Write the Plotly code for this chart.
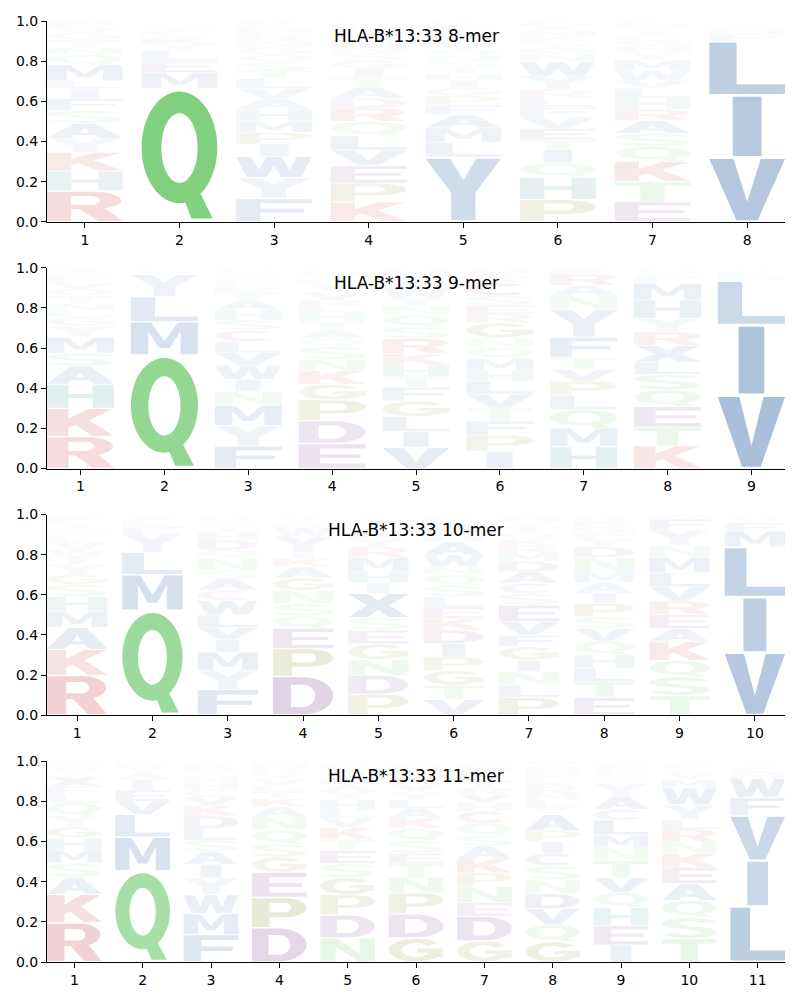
"""
Probability sequence logos for HLA-B*13:33 ligands of length 8-11.
Each letter is a glyph outline stretched into its stack box; opacity follows the letter's frequency.
"""
import numpy as np
import plotly.graph_objects as go
from plotly.subplots import make_subplots

ALLELE = "HLA-B*13:33"
PEPTIDE_LENGTHS = [8, 9, 10, 11]

# letters per position, bottom -> top, with their frequencies
letters_8 = ["RHKYASFILMQNTGVED", "QMELYKVFIWRAS", "FYWIPMHAVLTSQGNREDCK",
             "KPEVLQRDATIGSNMYHFWC", "YLMAFPGIHTSNQVEKRDWC", "PHQITEVFLRYWNGSKMADC",
             "ETKQSARHLVWMYNGFIPDC", "VILFMAYWT"]
heights_8 = [
    [.155, .10, .095, .07, .075, .065, .06, .05, .04, .08, .05, .035, .04, .035, .025, .02, .015],
    [.665, .08, .055, .05, .035, .03, .02, .015, .015, .01, .01, .01, .005],
    [.11, .10, .10, .06, .055, .055, .055, .05, .05, .045, .04, .04, .035, .035, .03, .025, .02, .02, .015, .015],
    [.09, .085, .08, .07, .065, .065, .06, .045, .05, .045, .04, .035, .035, .03, .03, .025, .02, .02, .01, .01],
    [.32, .075, .07, .065, .05, .045, .04, .035, .035, .03, .03, .03, .03, .03, .025, .025, .02, .015, .015, .01],
    [.11, .11, .07, .065, .05, .055, .055, .05, .045, .04, .07, .07, .04, .03, .03, .025, .025, .02, .02, .01],
    [.10, .10, .10, .075, .065, .065, .055, .055, .05, .04, .05, .05, .04, .03, .03, .025, .025, .02, .015, .01],
    [.32, .31, .27, .04, .025, .01, .01, .01, .005],
]

letters_9 = ["RKHASMYGLNTQVFEID", "QMLYVFI", "FYMNIWVLCSHATEKRGDQP", "EDPGKNSQATHLRVYFIMWC",
             "VILGFTHKRSQNYWAEDMP", "IPFTVLHMQNGRESCKADY", "HMQLPVTFYNARKE",
             "KTEQSLXRYHMFANG", "VILMFAY"]
heights_9 = [
    [.16, .14, .12, .09, .065, .08, .055, .045, .03, .035, .04, .035, .03, .025, .02, .02, .01],
    [.565, .166, .125, .11, .015, .01, .009],
    [.11, .10, .10, .065, .06, .07, .06, .055, .055, .05, .05, .045, .035, .025, .02, .02, .02, .015, .015, .01],
    [.12, .11, .10, .075, .065, .055, .06, .04, .04, .04, .045, .03, .03, .04, .04, .02, .02, .015, .01, .01],
    [.10, .075, .07, .075, .065, .05, .055, .055, .07, .055, .055, .045, .04, .045, .03, .02, .02, .015, .01],
    [.08, .075, .065, .06, .065, .06, .05, .055, .05, .045, .07, .04, .04, .045, .06, .025, .02, .015, .01],
    [.10, .085, .085, .065, .065, .055, .055, .09, .13, .065, .045, .05, .02, .01],
    [.11, .09, .10, .08, .075, .06, .08, .065, .065, .09, .08, .03, .02, .015, .01],
    [.365, .35, .22, .025, .02, .01, .01],
]

letters_10 = ["RKAMHSGYTWVLNQIFED", "QMLYEKFVI", "FYMIVLWCASNQDHTGRKE", "DPEQSNGAKIYWRTVL",
              "PDNGESXIHMRYKTAFLVQ", "VTGPIDKELSQNWAHRMYFC", "PLNIGFVESCADMRKQTYHW",
              "ETLHQVSPIAMNDYFGKRC", "TSQKAERVLMNYFGW", "VILMFYWAT"]
heights_10 = [
    [.20, .13, .11, .08, .075, .06, .05, .05, .045, .03, .03, .03, .025, .025, .02, .02, .015, .01],
    [.515, .175, .11, .09, .035, .02, .015, .015, .01],
    [.125, .09, .09, .06, .06, .06, .07, .05, .055, .04, .06, .04, .045, .04, .03, .02, .015, .01, .01],
    [.19, .135, .10, .06, .06, .065, .06, .055, .04, .03, .08, .04, .02, .02, .015, .01],
    [.10, .09, .075, .075, .065, .06, .115, .05, .055, .065, .05, .04, .03, .02, .02, .015, .01, .01, .01],
    [.075, .07, .07, .065, .065, .065, .055, .055, .05, .055, .05, .04, .055, .065, .03, .03, .025, .02, .015, .01],
    [.085, .06, .065, .055, .065, .055, .065, .08, .055, .05, .055, .05, .04, .035, .03, .03, .03, .025, .02, .015],
    [.085, .075, .065, .065, .065, .06, .055, .065, .05, .05, .05, .07, .05, .04, .03, .03, .025, .02, .01],
    [.09, .085, .075, .085, .06, .065, .06, .065, .065, .07, .055, .07, .05, .01, .01],
    [.30, .265, .24, .075, .04, .015, .01, .01, .005],
]

letters_11 = ["RKASMHGYQLFXTVNED", "QMLVEIAYKF", "FMWYIASLDKVCHNTERGQ", "DPEGSQNAKTLVYRHMF",
              "NDPGSETKVLHYAMQRFWI", "GDPNTESQKALYVRMFHI", "GDENPKASQCHVRTLYMFI",
              "GQVDNSCIPAYLMRKFEHTW", "IEHQVTNMLCAYSRKFWG", "TSQAEKNRLYWMVGFHP", "LIVFWMCYA"]
heights_11 = [
    [.195, .14, .085, .07, .065, .06, .055, .055, .065, .04, .04, .05, .02, .02, .015, .01, .01],
    [.445, .165, .11, .065, .055, .05, .03, .03, .02, .01],
    [.13, .10, .09, .08, .065, .06, .055, .055, .06, .05, .04, .035, .035, .03, .02, .015, .015, .01, .01],
    [.17, .15, .125, .075, .065, .07, .065, .05, .04, .035, .03, .03, .025, .02, .02, .015, .01],
    [.12, .115, .10, .085, .07, .065, .055, .06, .045, .04, .055, .04, .035, .03, .03, .02, .015, .01, .01],
    [.115, .115, .10, .075, .065, .05, .06, .06, .05, .045, .04, .04, .035, .035, .03, .02, .015, .01],
    [.10, .115, .065, .075, .065, .065, .06, .05, .06, .055, .04, .04, .03, .03, .025, .025, .02, .015, .01],
    [.095, .08, .075, .07, .065, .065, .06, .055, .05, .075, .035, .035, .03, .03, .025, .025, .025, .02, .015, .01],
    [.08, .09, .085, .07, .07, .08, .06, .06, .07, .05, .06, .06, .03, .02, .02, .015, .01, .01],
    [.11, .10, .08, .08, .075, .065, .055, .06, .045, .07, .08, .04, .03, .02, .015, .01, .01],
    [.26, .215, .21, .085, .09, .025, .025, .02, .01],
]

LOGOS = {8: (letters_8, heights_8), 9: (letters_9, heights_9),
         10: (letters_10, heights_10), 11: (letters_11, heights_11)}

# base colour per residue; opacity comes from the frequency
BLUE, RED, PURPLE, OLIVE, GREEN = (21, 80, 152), (190, 30, 30), (100, 30, 120), (110, 110, 0), (64, 184, 64)
COLORS = {**{a: BLUE for a in "AFILMVWX"}, "Y": (110, 145, 190), "H": (20, 120, 120), "C": (130, 40, 120),
          "K": RED, "R": RED, "D": PURPLE, "E": PURPLE, "P": OLIVE, "G": OLIVE,
          **{a: GREEN for a in "QNST"}}


# ---------- glyph outlines in a unit box ----------
def arc(cx, cy, rx, ry, a0, a1, n=28):
    t = np.radians(np.linspace(a0, a1, n))
    return list(zip(cx + rx * np.cos(t), cy + ry * np.sin(t)))


def ring_seg(cx, cy, rxo, ryo, rxi, ryi, a0, a1):
    return arc(cx, cy, rxo, ryo, a0, a1) + arc(cx, cy, rxi, ryi, a1, a0)


def rect(x0, y0, x1, y1):
    return [(x0, y0), (x1, y0), (x1, y1), (x0, y1)]


GLYPHS = {
    "A": [([(0, 0), (.3, 0), (.37, .2), (.63, .2), (.7, 0), (1, 0), (.65, 1), (.35, 1)], False),
          ([(.43, .36), (.57, .36), (.5, .68)], True)],
    "C": [(ring_seg(.5, .5, .5, .5, .26, .3, 45, 315), False)],
    "D": [([(0, 0), (.5, 0)] + arc(.5, .5, .5, .5, -90, 90) + [(0, 1)], False),
          ([(.3, .2), (.5, .2)] + arc(.5, .5, .2, .3, -90, 90) + [(.3, .8)], True)],
    "E": [([(0, 0), (1, 0), (1, .18), (.32, .18), (.32, .42), (.92, .42), (.92, .58), (.32, .58),
            (.32, .82), (1, .82), (1, 1), (0, 1)], False)],
    "F": [([(0, 0), (.32, 0), (.32, .4), (.9, .4), (.9, .57), (.32, .57), (.32, .82), (1, .82),
            (1, 1), (0, 1)], False)],
    "G": [(ring_seg(.5, .5, .5, .5, .26, .3, 40, 360), False), (rect(.52, .38, 1, .56), False),
          (rect(.74, .2, 1, .56), False)],
    "H": [([(0, 0), (.32, 0), (.32, .42), (.68, .42), (.68, 0), (1, 0), (1, 1), (.68, 1), (.68, .6),
            (.32, .6), (.32, 1), (0, 1)], False)],
    "I": [(rect(0, 0, 1, 1), False)],
    "K": [([(0, 0), (.32, 0), (.32, .3), (.42, .4), (.68, 0), (1, 0), (.62, .58), (.98, 1), (.62, 1),
            (.32, .64), (.32, 1), (0, 1)], False)],
    "L": [([(0, 0), (1, 0), (1, .19), (.36, .19), (.36, 1), (0, 1)], False)],
    "M": [([(0, 0), (.26, 0), (.26, .72), (.42, .2), (.58, .2), (.74, .72), (.74, 0), (1, 0), (1, 1),
            (.7, 1), (.5, .42), (.3, 1), (0, 1)], False)],
    "N": [([(0, 0), (.28, 0), (.28, .65), (.7, 0), (1, 0), (1, 1), (.72, 1), (.72, .35), (.3, 1),
            (0, 1)], False)],
    "P": [([(0, 0), (.32, 0), (.32, .34), (.6, .34)] + arc(.6, .67, .4, .33, -90, 90) + [(0, 1)], False),
          ([(.32, .5), (.58, .5)] + arc(.58, .67, .14, .17, -90, 90) + [(.32, .84)], True)],
    "Q": [(arc(.5, .56, .5, .44, 0, 360, 60), False), (arc(.5, .555, .24, .275, 0, 360, 60), True),
          ([(.5, .24), (.74, .24), (.94, 0), (.66, 0)], False)],
    "R": [([(0, 0), (.32, 0), (.32, .4), (.6, .4)] + arc(.6, .7, .38, .3, -90, 90) + [(0, 1)], False),
          ([(.32, .55), (.58, .55)] + arc(.58, .7, .12, .15, -90, 90) + [(.32, .85)], True),
          ([(.4, .45), (.68, 0), (1, 0), (.74, .48)], False)],
    "S": [(ring_seg(.5, .72, .5, .28, .2, .11, 15, 270), False),
          (ring_seg(.5, .28, .5, .28, .2, .11, 195, 450), False)],
    "T": [([(0, 1), (1, 1), (1, .8), (.66, .8), (.66, 0), (.34, 0), (.34, .8), (0, .8)], False)],
    "V": [([(0, 1), (.32, 1), (.5, .3), (.68, 1), (1, 1), (.64, 0), (.36, 0)], False)],
    "W": [([(0, 1), (.2, 1), (.3, .35), (.4, 1), (.6, 1), (.7, .35), (.8, 1), (1, 1), (.86, 0),
            (.6, 0), (.5, .55), (.4, 0), (.14, 0)], False)],
    "X": [([(0, 1), (.33, 1), (.5, .7), (.67, 1), (1, 1), (.68, .5), (1, 0), (.67, 0), (.5, .3),
            (.33, 0), (0, 0), (.32, .5)], False)],
    "Y": [([(0, 1), (.33, 1), (.5, .65), (.67, 1), (1, 1), (.66, .45), (.66, 0), (.34, 0),
            (.34, .45)], False)],
}
NARROW = {"I": 0.38}


def oriented(points, hole):
    pts = np.asarray(points, dtype=float)
    x, y = pts[:, 0], pts[:, 1]
    area = 0.5 * np.sum(x * np.roll(y, -1) - np.roll(x, -1) * y)
    if (area > 0) == hole:
        pts = pts[::-1]
    return pts


def glyph_path(letter, xc, width, y0, height):
    w = width * NARROW.get(letter, 1.0)
    parts = []
    for pts, hole in GLYPHS[letter]:
        p = oriented(pts, hole)
        xs = xc - w / 2 + p[:, 0] * w
        ys = y0 + p[:, 1] * height
        parts.append("M" + "L".join(f"{a:.4f},{b:.4f}" for a, b in zip(xs, ys)) + "Z")
    return "".join(parts)


# ---------- figure ----------
fig = make_subplots(rows=4, cols=1, vertical_spacing=46 / 941)
GLYPH_WIDTH = 0.8
VPAD = 0.025

for row, length in enumerate(PEPTIDE_LENGTHS, start=1):
    letters, heights = LOGOS[length]
    xref = "x" if row == 1 else f"x{row}"
    yref = "y" if row == 1 else f"y{row}"
    for pos, (seq, hs) in enumerate(zip(letters, heights), start=1):
        hs = np.asarray(hs, dtype=float)
        hs = hs / hs.sum()
        base = 0.0
        for letter, h in zip(seq, hs):
            r, g, b = COLORS[letter]
            fig.add_shape(
                type="path",
                path=glyph_path(letter, pos, GLYPH_WIDTH, base + VPAD * h, h * (1 - 2 * VPAD)),
                xref=xref, yref=yref,
                fillcolor=f"rgba({r},{g},{b},{min(1.0, h):.3f})",
                line=dict(width=0), fillrule="nonzero", layer="above",
            )
            base += h
    axis_style = dict(showline=True, linecolor="black", linewidth=1, mirror=False, showgrid=False,
                      zeroline=False, ticks="outside", ticklen=5, tickwidth=1, tickcolor="black",
                      automargin=False,
                      tickfont=dict(family="DejaVu Sans", size=14, color="black"))
    fig.update_xaxes(range=[0.6, length + 0.4], tickvals=list(range(1, length + 1)),
                     row=row, col=1, **axis_style)
    fig.update_yaxes(range=[0, 1], tickvals=[0, 0.2, 0.4, 0.6, 0.8, 1.0],
                     ticktext=["0.0", "0.2", "0.4", "0.6", "0.8", "1.0"], row=row, col=1, **axis_style)
    fig.add_annotation(text=f"{ALLELE} {length}-mer", xref=f"{xref} domain", yref=f"{yref} domain",
                       x=0.5, y=0.925, showarrow=False, xanchor="center", yanchor="middle",
                       font=dict(family="DejaVu Sans", size=17, color="black"))

# the page body adds an 8px offset, so the figure is 8px smaller and margins shifted
fig.update_layout(width=792, height=992, margin=dict(l=39, r=15, t=13, b=38),
                  plot_bgcolor="white", paper_bgcolor="white", showlegend=False)

fig.write_html("out.html")
